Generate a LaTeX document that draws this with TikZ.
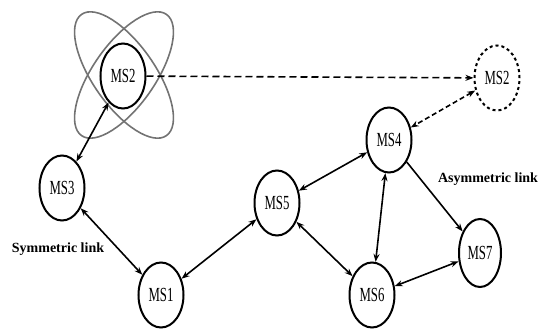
\documentclass[tikz,border=0pt]{standalone}
\usepackage{fontspec}
\setmainfont{Liberation Serif}
\usetikzlibrary{arrows.meta,shapes.geometric}
\newcommand{\mslabel}[1]{\scalebox{0.64}[1]{#1}}
\tikzset{
  ms/.style={ellipse, draw=black, line width=2pt, inner sep=0pt,
    minimum width=45pt, minimum height=65pt,
    font=\fontsize{20}{22}\selectfont},
  msghost/.style={ms, line width=2pt, dash pattern=on 3pt off 3pt},
  tip/.tip={Stealth[length=8pt,width=6pt]},
  link/.style={line width=1.6pt, tip-tip},
  onelink/.style={line width=1.6pt, -tip},
  orbit/.style={draw=black!55, line width=1.6pt},
  tag/.style={font=\fontsize{14}{16}\selectfont\bfseries}
}
\begin{document}
\begin{tikzpicture}[x=1pt,y=-1pt]
\useasboundingbox (0,0) rectangle (542,329);
% orbit rings around the moving node
\draw[orbit] (124,75) ellipse[x radius=74, y radius=31, rotate=55];
\draw[orbit] (124,75) ellipse[x radius=74, y radius=31, rotate=-55];
% mobile stations
\node[ms] (a2) at (123,76) {\mslabel{MS2}};
\node[msghost] (b2) at (497,78) {\mslabel{MS2}};
\node[ms] (s3) at (62,188) {\mslabel{MS3}};
\node[ms] (s1) at (161,295) {\mslabel{MS1}};
\node[ms] (s5) at (277,203) {\mslabel{MS5}};
\node[ms] (s4) at (389,140) {\mslabel{MS4}};
\node[ms] (s6) at (372,295) {\mslabel{MS6}};
\node[ms, minimum width=42pt, minimum height=68pt] (s7) at (480,253) {\mslabel{MS7}};
% labels
\node[tag] (sym) at (58,249) {Symmetric link};
\node[tag] (asym) at (488,179) {Asymmetric link};
% links
\draw[onelink, dash pattern=on 7pt off 4pt] (a2) -- (b2);
\draw[link, dash pattern=on 5pt off 3pt] (b2) -- (s4);
\draw[link] (a2) -- (s3);
\draw[link] (s3) -- (s1);
\draw[link] (s1) -- (s5);
\draw[link] (s5) -- (s4);
\draw[link] (s5) -- (s6);
\draw[link] (s4) -- (s6);
\draw[onelink] (s4) -- (s7);
\draw[link] (s6) -- (s7);
\end{tikzpicture}
\end{document}
